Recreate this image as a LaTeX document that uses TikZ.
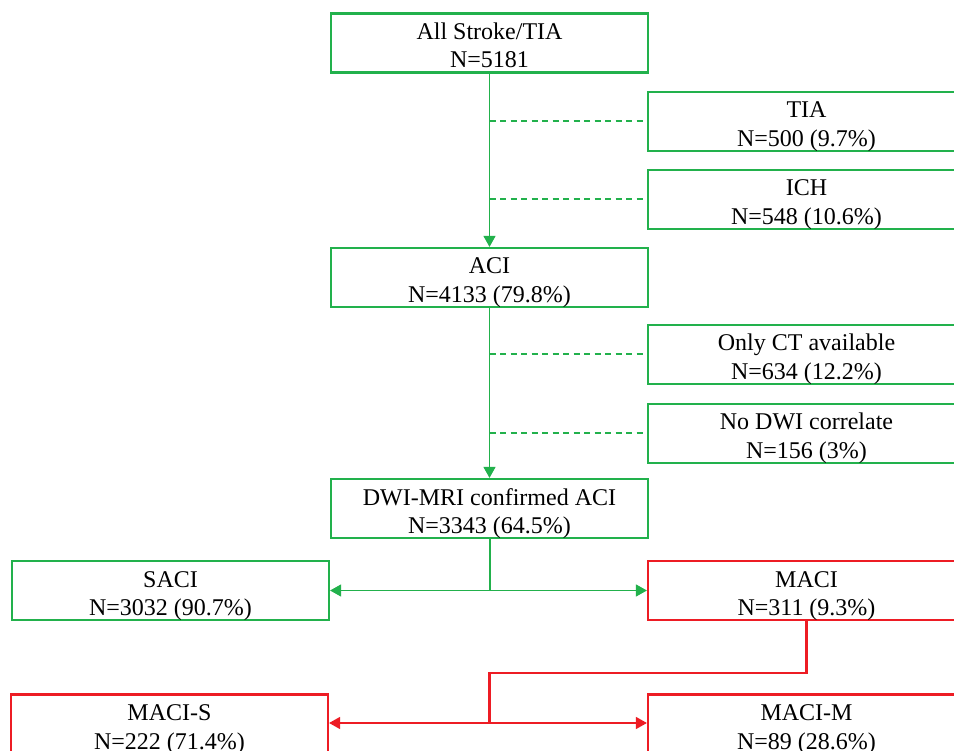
\documentclass[tikz,border=0pt]{standalone}
\usepackage{fontspec}
\setmainfont{Liberation Serif}
\usetikzlibrary{arrows.meta}
\definecolor{sgreen}{RGB}{34,177,76}
\definecolor{sred}{RGB}{237,28,36}
\begin{document}
\begin{tikzpicture}[x=1pt,y=-1pt,
  box/.style={draw=sgreen, line width=2.2pt, minimum width=317pt, minimum height=59pt, inner sep=0pt, align=center, text height=50pt, text depth=0pt, font=\fontsize{24}{28.5}\selectfont},
  rbox/.style={box, draw=sred},
  gline/.style={draw=sgreen, line width=1.3pt},
  gthick/.style={draw=sgreen, line width=2pt},
  gdash/.style={draw=sgreen, line width=2pt, dash pattern=on 6pt off 4.5pt},
  rline/.style={draw=sred, line width=2.2pt},
  garrow/.style={gline, -{Triangle[length=11pt,width=12pt]}},
  rarrow/.style={draw=sred, line width=1.3pt, -{Triangle[length=11pt,width=12pt]}}]
\useasboundingbox (0,0) rectangle (954,751);
\clip (0,0) rectangle (954,751);
\fill[white] (0,0) rectangle (954,751);

\node[box] (all) at (489.5,43) {All Stroke/TIA\\N=5181};
\node[box] (tia) at (806.5,121.5) {TIA\\N=500 (9.7\%)};
\node[box] (ich) at (806.5,199.5) {ICH\\N=548 (10.6\%)};
\node[box] (aci) at (489.5,277.5) {ACI\\N=4133 (79.8\%)};
\node[box] (ct) at (806.5,354.5) {Only CT available\\N=634 (12.2\%)};
\node[box] (nodwi) at (806.5,433.5) {No DWI correlate\\N=156 (3\%)};
\node[box] (dwi) at (489.5,508.5) {DWI-MRI confirmed ACI\\N=3343 (64.5\%)};
\node[box] (saci) at (170.5,590.5) {SACI\\N=3032 (90.7\%)};
\node[rbox] (maci) at (806.5,590.5) {MACI\\N=311 (9.3\%)};
\node[rbox] (macis) at (169.5,724) {MACI-S\\N=222 (71.4\%)};
\node[rbox] (macim) at (806.5,724) {MACI-M\\N=89 (28.6\%)};

\coordinate (d1) at (489.5,121.5);
\coordinate (d2) at (489.5,199.5);
\coordinate (d3) at (489.5,354.5);
\coordinate (d4) at (489.5,433.5);
\coordinate (b1) at (489.5,590.5);
\coordinate (b2) at (489.5,673);
\coordinate (b3) at (489.5,723);

\draw[garrow] (all.south) -- (aci.north);
\draw[gdash] (d1) -- (tia.west);
\draw[gdash] (d2) -- (ich.west);
\draw[garrow] (aci.south) -- (dwi.north);
\draw[gdash] (d3) -- (ct.west);
\draw[gdash] (d4) -- (nodwi.west);

\draw[gthick] (dwi.south) -- (b1);
\draw[garrow] (b1) -- (saci.east);
\draw[garrow] (b1) -- (maci.west);

\draw[rline] (maci.south) |- (b2) -- (b3);
\draw[rarrow] (b3) -- (macis.east |- b3);
\draw[rarrow] (b3) -- (macim.west |- b3);
\end{tikzpicture}
\end{document}
